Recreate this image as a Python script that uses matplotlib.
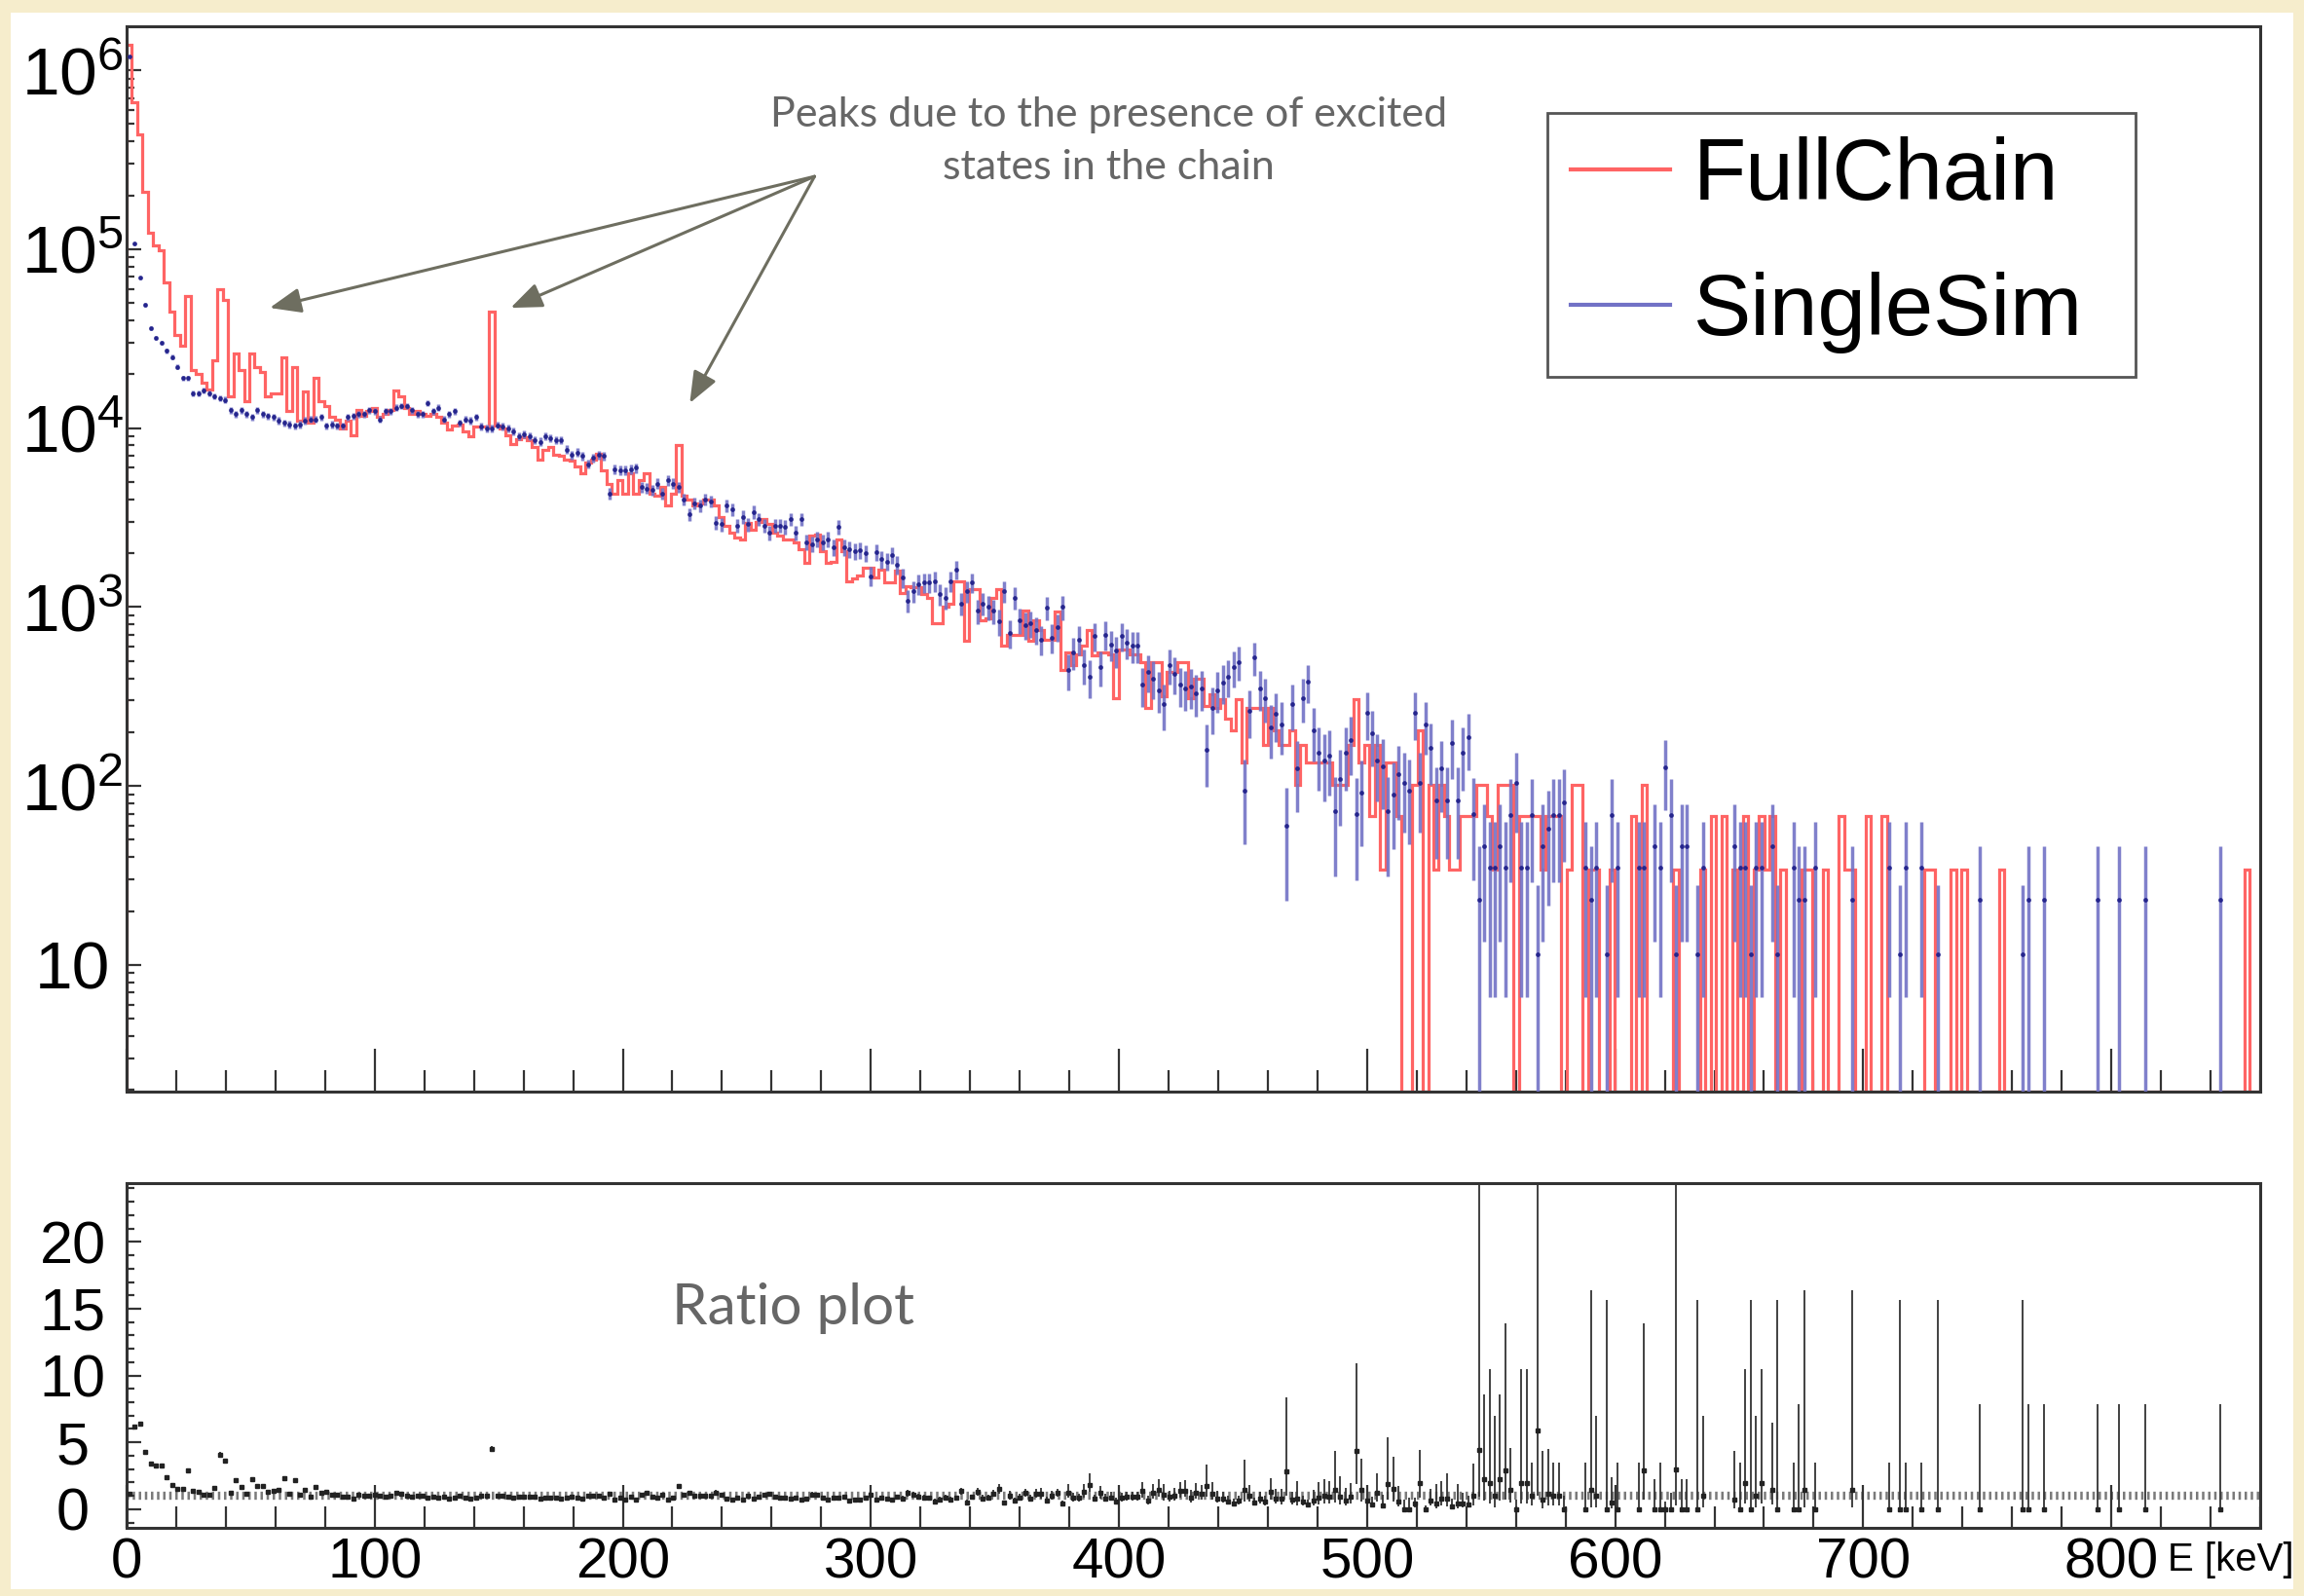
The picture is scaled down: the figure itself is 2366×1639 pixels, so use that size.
import math
import numpy as np
import matplotlib
matplotlib.use('Agg')
import matplotlib.pyplot as plt
from matplotlib import font_manager
from matplotlib.lines import Line2D
from matplotlib.patches import Rectangle
from matplotlib.ticker import MultipleLocator, LogLocator, NullFormatter

# both spectra share the same binning: 400 bins over 0-860 keV
N_BINS = 400
E_MAX = 860.0

# FullChain bin contents (weighted counts), 10 bins per row
full_chain = [
    1380000, 660000, 440000, 210000, 124000, 105000, 98000, 65000, 45000, 33000,
    29000, 55000, 21000, 20000, 18000, 16500, 24000, 60000, 52000, 15000,
    26000, 21000, 14200, 26000, 22000, 20500, 15000, 15600, 15600, 25000,
    12400, 22000, 11000, 16000, 10700, 19000, 14200, 13300, 11500, 11200,
    9900, 11000, 9100, 12600, 11700, 12400, 13000, 11500, 12000, 12600,
    16300, 15000, 13000, 12000, 12400, 12000, 11700, 12000, 11500, 10700,
    9800, 10300, 10500, 9600, 9000, 10200, 10200, 10200, 45000, 10400,
    10000, 9100, 8100, 8700, 8900, 8600, 7800, 6700, 7600, 7800,
    7100, 7000, 6700, 6600, 6100, 5600, 6400, 6700, 7200, 5800,
    4900, 4300, 5100, 4300, 5600, 4300, 5100, 5600, 4300, 4200,
    4700, 3700, 4300, 8000, 4200, 4000, 3700, 3800, 4000, 4000,
    3700, 3200, 2850, 2600, 2450, 2400, 2960, 2700, 3000, 3100,
    2900, 2600, 2500, 2400, 2400, 2300, 2100, 1760, 2500, 2550,
    2050, 1760, 1800, 2400, 2050, 1400, 1450, 1500, 1650, 1650,
    1460, 1620, 1370, 1370, 1590, 1200, 1310, 1290, 1290, 1180,
    1130, 810, 810, 1000, 1050, 1400, 1400, 646, 1260, 1260,
    845, 863, 1130, 1260, 606, 702, 702, 702, 955, 646,
    845, 746, 660, 660, 940, 443, 557, 472, 546, 606,
    746, 535, 557, 557, 546, 311, 580, 580, 546, 546,
    492, 274, 492, 492, 316, 434, 434, 492, 492, 311,
    400, 400, 280, 324, 274, 306, 238, 204, 306, 136,
    272, 272, 272, 170, 272, 204, 170, 170, 204, 102,
    170, 136, 136, 136, 136, 136, 102, 102, 102, 170,
    306, 136, 170, 68, 170, 34, 136, 136, 68, 0,
    0, 102, 204, 0, 102, 34, 102, 68, 34, 34,
    68, 68, 68, 102, 102, 68, 34, 102, 102, 102,
    0, 68, 68, 68, 68, 34, 68, 68, 68, 0,
    34, 102, 102, 0, 34, 34, 0, 0, 34, 0,
    0, 0, 68, 0, 102, 0, 0, 0, 0, 0,
    34, 0, 0, 0, 0, 34, 0, 68, 0, 68,
    0, 34, 0, 68, 0, 34, 68, 34, 68, 0,
    34, 0, 0, 0, 34, 34, 0, 0, 34, 0,
    0, 68, 34, 34, 0, 0, 68, 0, 0, 68,
    0, 0, 0, 0, 0, 0, 0, 34, 34, 0,
    0, 0, 34, 0, 34, 0, 0, 0, 0, 0,
    0, 34, 0, 0, 0, 0, 0, 0, 0, 0,
    0, 0, 0, 0, 0, 0, 0, 0, 0, 0,
    0, 0, 0, 0, 0, 0, 0, 0, 0, 0,
    0, 0, 0, 0, 0, 0, 0, 0, 0, 0,
    0, 0, 0, 0, 0, 0, 0, 34, 0, 0,
]

# SingleSim bin contents (weighted counts), 10 bins per row
single_sim = [
    1200000, 107000, 69000, 49000, 36000, 32000, 30000, 27000, 25000, 22000,
    19000, 19000, 15700, 15700, 16300, 15700, 15000, 14700, 14400, 12600,
    12000, 12600, 12000, 11500, 12600, 12000, 11700, 11500, 11000, 10700,
    10500, 10300, 10500, 11000, 11200, 11200, 11500, 10300, 10500, 10300,
    10300, 11500, 11700, 12000, 12000, 12600, 12400, 11200, 12400, 12400,
    13000, 13300, 13300, 12600, 12000, 12000, 13800, 12400, 13000, 11200,
    12000, 12400, 10700, 11200, 11000, 11500, 10200, 10000, 10000, 10400,
    10200, 10000, 9600, 9000, 9200, 9000, 8600, 8400, 9000, 8800,
    8600, 8600, 7600, 7100, 7300, 7000, 6300, 6800, 7100, 7000,
    4300, 5900, 5800, 5800, 5900, 6000, 4700, 4600, 4500, 4900,
    4300, 5100, 4900, 4700, 4000, 3300, 3800, 3700, 4000, 3900,
    2960, 2900, 3700, 3500, 2850, 3200, 2900, 3400, 3100, 2850,
    2600, 2850, 2850, 2800, 3100, 2600, 3100, 2300, 2250, 2400,
    2300, 2400, 2150, 2800, 2150, 2100, 2050, 2070, 2000, 1490,
    2030, 1850, 1800, 1950, 1720, 1460, 1090, 1230, 1340, 1370,
    1370, 1400, 1180, 1130, 1400, 1620, 1050, 1230, 1370, 955,
    1050, 1000, 955, 828, 1230, 716, 1130, 845, 794, 810,
    746, 660, 990, 675, 776, 1000, 443, 557, 660, 472,
    408, 690, 463, 702, 620, 570, 690, 630, 606, 606,
    367, 434, 400, 344, 286, 472, 426, 367, 352, 360,
    331, 352, 159, 274, 344, 380, 410, 460, 492, 94,
    263, 524, 352, 311, 212, 253, 222, 60, 286, 125,
    311, 383, 205, 153, 138, 147, 72, 110, 153, 180,
    70, 92, 258, 196, 138, 129, 72, 90, 116, 104,
    94, 258, 104, 222, 163, 83, 125, 83, 173, 83,
    153, 188, 70, 23, 46, 35, 35, 46, 35, 69,
    104, 35, 35, 69, 11.5, 46, 58, 69, 69, 81,
    0, 0, 0, 35, 23, 35, 0, 11.5, 69, 35,
    0, 0, 0, 35, 35, 0, 46, 35, 127, 69,
    11.5, 46, 46, 0, 11.5, 35, 0, 0, 0, 0,
    0, 46, 35, 35, 11.5, 35, 35, 0, 46, 11.5,
    0, 0, 35, 23, 23, 0, 35, 0, 0, 0,
    0, 0, 0, 23, 0, 0, 0, 0, 0, 0,
    35, 0, 11.5, 35, 0, 0, 35, 0, 0, 11.5,
    0, 0, 0, 0, 0, 0, 0, 23, 0, 0,
    0, 0, 0, 0, 0, 11.5, 23, 0, 0, 23,
    0, 0, 0, 0, 0, 0, 0, 0, 0, 23,
    0, 0, 0, 23, 0, 0, 0, 0, 23, 0,
    0, 0, 0, 0, 0, 0, 0, 0, 0, 0,
    0, 0, 23, 0, 0, 0, 0, 0, 0, 0,
]

# weight carried by a single simulated event in each sample
W_FULL = 34.0
W_SINGLE = 23.0
ALPHA = 0.3173  # 1 sigma

series_names = ['FullChain', 'SingleSim']
peak_label = 'Peaks due to the presence of excited\nstates in the chain'

RED = '#ff6464'
BLUE_BAR = '#7272c6'
BLUE_DOT = '#20208a'
FRAME = '#333333'


def pick_font(*names):
    available = {f.name for f in font_manager.fontManager.ttflist}
    for name in names:
        if name in available:
            return name
    return 'DejaVu Sans'


TICK_FONT = pick_font('Liberation Sans', 'DejaVu Sans')
NOTE_FONT = pick_font('Lato', 'Open Sans', 'DejaVu Sans')

plt.rcParams['font.family'] = [TICK_FONT, 'DejaVu Sans']
plt.rcParams['mathtext.fontset'] = 'custom'
plt.rcParams['mathtext.rm'] = TICK_FONT
plt.rcParams['mathtext.it'] = TICK_FONT


# Clopper-Pearson interval for the ratio of two Poisson samples
def _betacf(a, b, x):
    tiny = 1e-30
    qab, qap, qam = a + b, a + 1.0, a - 1.0
    c = 1.0
    d = 1.0 - qab * x / qap
    d = 1.0 / (d if abs(d) > tiny else tiny)
    h = d
    for m in range(1, 400):
        m2 = 2 * m
        aa = m * (b - m) * x / ((qam + m2) * (a + m2))
        d = 1.0 + aa * d
        d = 1.0 / (d if abs(d) > tiny else tiny)
        c = 1.0 + aa / c
        c = c if abs(c) > tiny else tiny
        h *= d * c
        aa = -(a + m) * (qab + m) * x / ((a + m2) * (qap + m2))
        d = 1.0 + aa * d
        d = 1.0 / (d if abs(d) > tiny else tiny)
        c = 1.0 + aa / c
        c = c if abs(c) > tiny else tiny
        de = d * c
        h *= de
        if abs(de - 1.0) < 1e-9:
            break
    return h


def betainc(a, b, x):
    if x <= 0.0:
        return 0.0
    if x >= 1.0:
        return 1.0
    lbt = (math.lgamma(a + b) - math.lgamma(a) - math.lgamma(b)
           + a * math.log(x) + b * math.log(1.0 - x))
    if x < (a + 1.0) / (a + b + 2.0):
        return math.exp(lbt) * _betacf(a, b, x) / a
    return 1.0 - math.exp(lbt) * _betacf(b, a, 1.0 - x) / b


def beta_quantile(q, a, b):
    lo, hi = 0.0, 1.0
    for _ in range(50):
        mid = 0.5 * (lo + hi)
        if betainc(a, b, mid) < q:
            lo = mid
        else:
            hi = mid
    return 0.5 * (lo + hi)


def events(value, weight):
    # number of simulated events behind a bin (at least one if filled)
    return max(value / weight, 1.0) if value > 0 else 0.0


def ratio_point(num, den):
    ratio = num / den
    n_num, n_den = events(num, W_FULL), events(den, W_SINGLE)
    if min(n_num, n_den) > 25:
        err = ratio * math.sqrt(1.0 / n_num + 1.0 / n_den)
        return ratio, err, err
    w_num = num / n_num if n_num > 0 else W_FULL
    scale = w_num / (den / n_den)
    p_lo = beta_quantile(ALPHA / 2, n_num, n_den + 1) if n_num > 0 else 0.0
    p_hi = beta_quantile(1 - ALPHA / 2, n_num + 1, n_den)
    lo = scale * p_lo / (1 - p_lo)
    hi = scale * p_hi / (1 - p_hi) if p_hi < 0.999999 else 1e3
    return ratio, max(ratio - lo, 0.0), max(hi - ratio, 0.0)


full = np.array(full_chain, dtype=float)
single = np.array(single_sim, dtype=float)
edges = np.linspace(0, E_MAX, N_BINS + 1)
centers = 0.5 * (edges[:-1] + edges[1:])

Y_MIN, Y_MAX = 1.96, 1.76e6

fig = plt.figure(figsize=(23.66, 16.39), dpi=100)
fig.patch.set_facecolor('#f6edcc')
fig.patches.append(Rectangle((0.0047, 0.004), 0.9908, 0.988, transform=fig.transFigure,
                             facecolor='white', edgecolor='none', zorder=-10))

ax = fig.add_axes([130 / 2366, 1 - 1121 / 1639, 2191 / 2366, 1094 / 1639])
axr = fig.add_axes([130 / 2366, 1 - 1569 / 1639, 2191 / 2366, 354 / 1639])

# ---- spectra ----
ax.stairs(np.where(full > 0, full, Y_MIN), edges, baseline=Y_MIN,
          color=RED, lw=2.3, zorder=2)
has_single = single > 0
ax.errorbar(centers[has_single], single[has_single],
            yerr=np.sqrt(single[has_single] * W_SINGLE),
            fmt='o', ms=2.4, color=BLUE_DOT, ecolor=BLUE_BAR,
            elinewidth=2.5, capsize=0, alpha=0.9, zorder=3)

ax.set_yscale('log')
ax.set_xlim(0, E_MAX)
ax.set_ylim(Y_MIN, Y_MAX)
ax.set_yticks([10, 1e2, 1e3, 1e4, 1e5, 1e6])
ax.set_yticklabels(['10'] + [r'$\mathrm{10^{%d}}$' % p for p in range(2, 7)])
ax.yaxis.set_minor_locator(LogLocator(base=10, subs=np.arange(2, 10) * 1.0, numticks=20))
ax.yaxis.set_minor_formatter(NullFormatter())
ax.xaxis.set_major_locator(MultipleLocator(100))
ax.xaxis.set_minor_locator(MultipleLocator(20))
ax.tick_params(axis='x', which='both', direction='in', labelbottom=False, color=FRAME, width=1.6)
ax.tick_params(axis='x', which='major', length=32)
ax.tick_params(axis='x', which='minor', length=16)
ax.tick_params(axis='y', which='both', direction='in', color=FRAME, width=1.6)
ax.tick_params(axis='y', which='major', length=11, pad=40, labelsize=50)
ax.tick_params(axis='y', which='minor', length=6)
for lab in ax.get_yticklabels():
    lab.set_horizontalalignment('center')

handles = [Line2D([], [], color=RED, lw=3), Line2D([], [], color=BLUE_BAR, lw=3)]
leg = ax.legend(handles, series_names, loc='upper left',
                bbox_to_anchor=(0.6659, 0.9186 - 0.236, 0.2757, 0.236), mode='expand',
                borderaxespad=0, fontsize=64, frameon=True, fancybox=False,
                edgecolor='#555555', borderpad=0.27, handlelength=1.15,
                handletextpad=0.27, labelspacing=0.62)
leg.get_frame().set_linewidth(2.0)
leg.get_frame().set_alpha(1)

ax.text(396, 4.0e5, peak_label, ha='center', va='center', fontsize=31,
        family=NOTE_FONT, color='#666666', linespacing=1.5)
for tip in [(57.7, 4.7e4), (154.8, 4.7e4), (227.0, 1.38e4)]:
    ax.annotate('', xy=tip, xytext=(277.3, 2.55e5),
                arrowprops=dict(arrowstyle='-|>,head_length=0.7,head_width=0.28',
                                mutation_scale=28, color='#6e6e60', lw=2.2,
                                shrinkA=0, shrinkB=0))

# ---- ratio ----
rx, ry, rlo, rhi = [], [], [], []
for c, num, den in zip(centers, full, single):
    if den <= 0:
        continue
    r, lo, hi = ratio_point(num, den)
    rx.append(c)
    ry.append(r)
    rlo.append(lo)
    rhi.append(hi)

axr.axhline(1, color='#7a7a7a', lw=6, ls=(0, (0.3, 0.45)), zorder=1)
axr.errorbar(rx, ry, yerr=[rlo, rhi], fmt='s', ms=3, color='#222222',
             ecolor='#333333', elinewidth=1.3, capsize=0, zorder=3)
axr.set_xlim(0, E_MAX)
axr.set_ylim(-1.4, 24.4)
axr.xaxis.set_major_locator(MultipleLocator(100))
axr.xaxis.set_minor_locator(MultipleLocator(20))
axr.yaxis.set_major_locator(MultipleLocator(5))
axr.yaxis.set_minor_locator(MultipleLocator(1))
axr.tick_params(axis='both', which='both', direction='in', color=FRAME, width=1.6)
axr.tick_params(axis='x', which='major', length=32, pad=7, labelsize=42)
axr.tick_params(axis='x', which='minor', length=16)
axr.tick_params(axis='y', which='major', length=11, pad=40, labelsize=44)
axr.tick_params(axis='y', which='minor', length=6)
for lab in axr.get_yticklabels():
    lab.set_horizontalalignment('center')
axr.text(1.016, -0.093, 'E [keV]', transform=axr.transAxes, ha='right', va='center',
         fontsize=29)
axr.text(268.7, 15.05, 'Ratio plot', ha='center', va='center', fontsize=42,
         family=NOTE_FONT, color='#666666')

for a in (ax, axr):
    for s in a.spines.values():
        s.set_color(FRAME)
        s.set_linewidth(2.2)

fig.savefig('out.png', dpi=100, facecolor=fig.get_facecolor())
